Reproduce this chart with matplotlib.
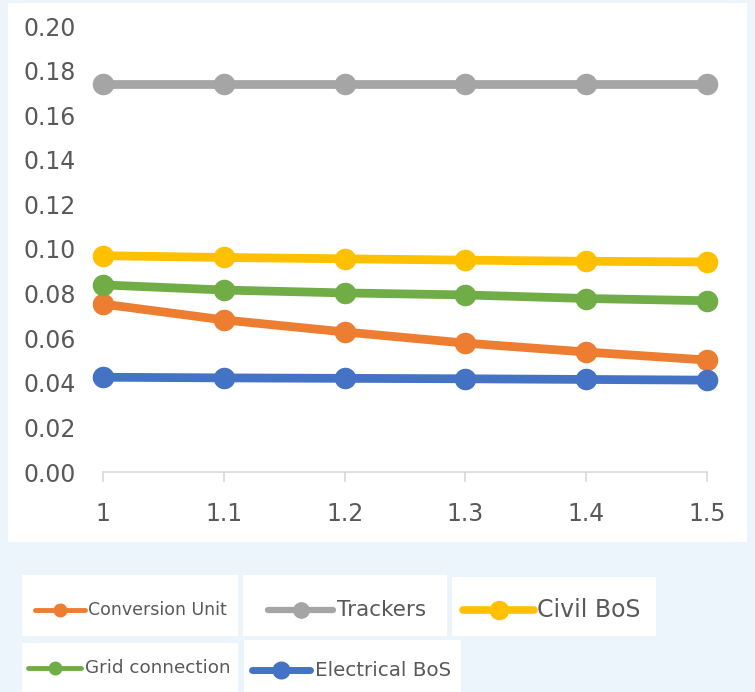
import matplotlib.pyplot as plt
from matplotlib.patches import Rectangle
from matplotlib.lines import Line2D

# x values (categories) and cost share for each component
x_vals = [1, 1.1, 1.2, 1.3, 1.4, 1.5]
x_labels = ['1', '1.1', '1.2', '1.3', '1.4', '1.5']
conversion_unit = [0.0753, 0.0682, 0.0628, 0.0578, 0.0538, 0.0502]
trackers = [0.174, 0.174, 0.174, 0.174, 0.174, 0.174]
civil_bos = [0.0970, 0.0962, 0.0956, 0.0950, 0.0945, 0.0942]
grid_connection = [0.0839, 0.0816, 0.0803, 0.0794, 0.0778, 0.0768]
electrical_bos = [0.0425, 0.0422, 0.0420, 0.0418, 0.0415, 0.0412]
y_ticks = [0.00, 0.02, 0.04, 0.06, 0.08, 0.10, 0.12, 0.14, 0.16, 0.18, 0.20]

series = [
    ('Conversion Unit', conversion_unit, '#ED7D31'),
    ('Trackers', trackers, '#A5A5A5'),
    ('Civil BoS', civil_bos, '#FFC000'),
    ('Grid connection', grid_connection, '#70AD47'),
    ('Electrical BoS', electrical_bos, '#4472C4'),
]

W, H = 755, 692
fig = plt.figure(figsize=(W / 100, H / 100), dpi=100)
fig.patch.set_facecolor('#EDF5FC')

def fx(px):
    return px / W

def fy(py):
    return 1 - py / H

# white chart panel, kept behind the axes
fig.patches.append(Rectangle((fx(8), fy(542)), fx(747 - 8), (542 - 3) / H,
                             transform=fig.transFigure, facecolor='white',
                             edgecolor='none', zorder=-5))

ax = fig.add_axes([fx(103), fy(472), fx(707 - 103), (472 - 26) / H])
ax.set_facecolor('none')

for name, vals, col in series:
    ax.plot(x_vals, vals, color=col, lw=6.3, marker='o', markersize=14.5,
            clip_on=False, solid_capstyle='butt')

ax.set_xlim(1, 1.5)
ax.set_ylim(0, 0.2)
ax.set_xticks(x_vals)
ax.set_xticklabels(x_labels)
ax.set_yticks(y_ticks)
ax.set_yticklabels([f'{v:.2f}' for v in y_ticks])

for s in ['top', 'right', 'left']:
    ax.spines[s].set_visible(False)
ax.spines['bottom'].set_color('#D9D9D9')
ax.spines['bottom'].set_linewidth(1.2)
ax.tick_params(axis='x', length=7.5, width=1.2, color='#D9D9D9', pad=14,
               labelsize=17, labelcolor='#595959')
ax.tick_params(axis='y', length=0, pad=19.5, labelsize=17, labelcolor='#595959')

# legend entries, each in its own white box
legend_boxes = [
    # (box x0, y0, x1, y1), (line x0, x1, y), marker size, line width, text x, font size
    ((22, 575, 238, 636), (35, 85, 610), 9, 3.5, 88, 12.5),
    ((243, 575, 447, 636), (268, 333, 610), 11, 4.5, 337, 15.5),
    ((452, 577, 656, 636), (463, 534, 610), 13, 5.5, 537, 17),
    ((22, 643, 238, 692), (28, 81, 668), 9, 3.5, 85, 13.2),
    ((244, 640, 461, 692), (252, 310, 670), 12, 5, 315, 14.3),
]

for (name, vals, col), (box, ln, ms, lw, tx, fs) in zip(series, legend_boxes):
    x0, y0, x1, y1 = box
    fig.patches.append(Rectangle((fx(x0), fy(y1)), fx(x1 - x0), (y1 - y0) / H,
                                 transform=fig.transFigure, facecolor='white',
                                 edgecolor='none', zorder=1))
    lx0, lx1, ly = ln
    fig.lines.append(Line2D([fx(lx0), fx(lx1)], [fy(ly), fy(ly)],
                            transform=fig.transFigure, color=col, lw=lw,
                            solid_capstyle='round', zorder=2))
    fig.lines.append(Line2D([fx((lx0 + lx1) / 2)], [fy(ly)],
                            transform=fig.transFigure, color=col, marker='o',
                            markersize=ms, lw=0, zorder=3))
    fig.text(fx(tx), fy(ly), name, fontsize=fs, color='#595959',
             va='center', ha='left', zorder=4)

fig.savefig('out.png', dpi=100, facecolor=fig.get_facecolor())
